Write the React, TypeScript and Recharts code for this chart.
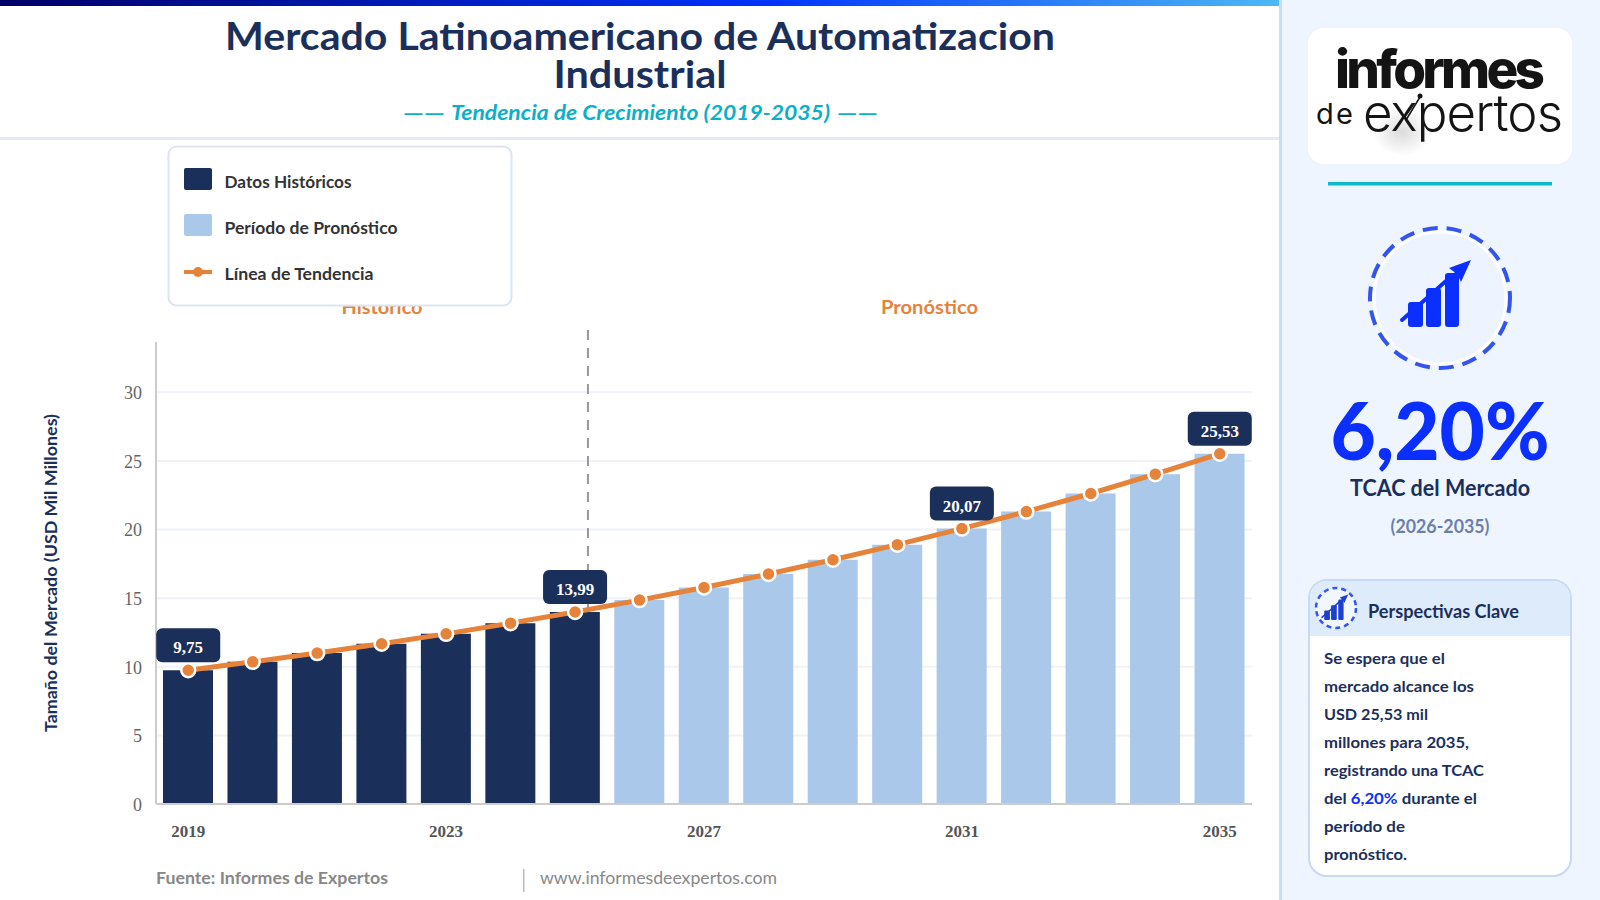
import React from 'react';
import { ComposedChart, Bar, Line, XAxis, YAxis, CartesianGrid, LabelList, ReferenceLine } from 'recharts';

const years = [2019, 2020, 2021, 2022, 2023, 2024, 2025, 2026, 2027, 2028, 2029, 2030, 2031, 2032, 2033, 2034, 2035];
const historicos = [9.75, 10.36, 11.0, 11.68, 12.4, 13.18, 13.99, null, null, null, null, null, null, null, null, null, null];
const pronostico = [null, null, null, null, null, null, null, 14.86, 15.78, 16.76, 17.8, 18.9, 20.07, 21.31, 22.63, 24.04, 25.53];
const tendencia = [9.75, 10.36, 11.0, 11.68, 12.4, 13.18, 13.99, 14.86, 15.78, 16.76, 17.8, 18.9, 20.07, 21.31, 22.63, 24.04, 25.53];
const yTicks = [0, 5, 10, 15, 20, 25, 30];
const gridValues = [5, 10, 15, 20, 25, 30];
const labelledYears = [2019, 2025, 2031, 2035];
const dividerSegment = [{ x: 2025.2, y: 13.99 }, { x: 2025.2, y: 33.67 }];
const data = years.map((year, i) => ({ year, historico: historicos[i], pronostico: pronostico[i], tendencia: tendencia[i] }));

const NAVY = '#1b2f5b';
const LIGHT = '#aac8e9';
const ORANGE = '#e6833a';
const BLUE = '#0a2fff';
const SANS = 'Lato';
const SERIF = '"Liberation Serif"';

const fmt = (v: number) => v.toFixed(2).replace('.', ',');

function T({ x, y, w, size, color, weight = 700, anchor = 'start', italic = false, family = SANS, children, rotate, adjust = 'spacingAndGlyphs' }: any) {
  return (
    <text
      x={x}
      y={y}
      fontFamily={family}
      fontSize={size}
      fill={color}
      fontWeight={weight}
      fontStyle={italic ? 'italic' : 'normal'}
      textAnchor={anchor}
      textLength={w}
      lengthAdjust={adjust}
      transform={rotate ? `rotate(${rotate} ${x} ${y})` : undefined}
    >
      {children}
    </text>
  );
}

function ValueBadge(props: any) {
  const { x, y, value, index } = props;
  if (!labelledYears.includes(years[index])) return null;
  return (
    <g>
      <rect x={x - 32} y={y - 42} width={64} height={34} rx={6} fill={NAVY} />
      <text x={x} y={y - 17} textAnchor="middle" fontFamily={SERIF} fontWeight={700} fontSize={17} fill="#fff">
        {fmt(value)}
      </text>
    </g>
  );
}

const DividerLine = (p: any) => (
  <line
    x1={p.x1}
    x2={p.x2}
    y1={Math.min(p.y1, p.y2) - 12}
    y2={Math.max(p.y1, p.y2)}
    stroke="#999999"
    strokeWidth={2}
    strokeDasharray="10 8"
  />
);

const bodyLines = ['Se espera que el', 'mercado alcance los', 'USD 25,53 mil', 'millones para 2035,', 'registrando una TCAC'];
const bodyWidths = [121, 150, 104, 145, 160];

function GrowthIcon({ s = 1, x = 0, y = 0, color = BLUE }: any) {
  return (
    <g transform={`translate(${x} ${y}) scale(${s})`} fill={color}>
      <rect x={-31} y={4} width={15} height={25} rx={3} />
      <rect x={-13} y={-10} width={15} height={39} rx={3} />
      <rect x={6} y={-25} width={14} height={54} rx={3} />
      <path d="M-37 22 L-12 0 L8 -18 L20 -26" stroke={color} strokeWidth={4} strokeLinecap="round" fill="none" />
      <path d="M10 -30 L32 -38 L22 -16 L18 -24 Z" />
    </g>
  );
}

export default function App() {
  return (
    <div style={{ position: 'absolute', left: 0, top: 0, width: 1600, height: 900, overflow: 'hidden', background: '#fff' }}>
      <div style={{ position: 'absolute', left: 0, top: 0 }}>
        <ComposedChart width={1279} height={900} data={data} margin={{ top: 342, right: 27, bottom: 56, left: 106 }}>
          <CartesianGrid vertical={false} stroke="#f0f2f9" strokeWidth={2} xAxisId="cat" horizontalValues={gridValues} />
          <XAxis
            xAxisId="cat"
            dataKey="year"
            type="category"
            interval={3}
            height={40}
            tickLine={false}
            axisLine={{ stroke: '#cccccc', strokeWidth: 2 }}
            tick={{ fontFamily: SERIF, fontWeight: 700, fontSize: 17, fill: '#555' }}
            tickMargin={15}
          />
          <XAxis xAxisId="num" dataKey="year" type="number" hide allowDataOverflow domain={[2018.5, 2035.5]} />
          <YAxis
            width={50}
            domain={[0, 33.67]}
            ticks={yTicks}
            allowDataOverflow
            tickLine={false}
            axisLine={{ stroke: '#cccccc', strokeWidth: 2 }}
            tick={{ fontFamily: SERIF, fontSize: 18, fill: '#666', dy: 0.5 }}
            tickMargin={8}
          />
          <ReferenceLine xAxisId="num" segment={dividerSegment} ifOverflow="visible" shape={DividerLine} />
          <Bar xAxisId="cat" dataKey="historico" stackId="a" fill={NAVY} barSize={50} isAnimationActive={false} />
          <Bar xAxisId="cat" dataKey="pronostico" stackId="a" fill={LIGHT} barSize={50} isAnimationActive={false} />
          <Line
            xAxisId="cat"
            dataKey="tendencia"
            type="monotone"
            stroke={ORANGE}
            strokeWidth={5}
            dot={{ r: 7, fill: ORANGE, stroke: '#fff', strokeWidth: 2.5 }}
            activeDot={false}
            isAnimationActive={false}
          >
            <LabelList dataKey="tendencia" content={ValueBadge} />
          </Line>
        </ComposedChart>
      </div>

      <svg width={1600} height={900} style={{ position: 'absolute', left: 0, top: 0, pointerEvents: 'none' }}>
        <defs>
          <linearGradient id="topbar" x1="0" x2="1" y1="0" y2="0">
            <stop offset="0" stopColor="#000066" />
            <stop offset="0.6" stopColor="#0033ff" />
            <stop offset="1" stopColor="#4db8f5" />
          </linearGradient>
          <radialGradient id="logoShade">
            <stop offset="0" stopColor="#000" stopOpacity="0.14" />
            <stop offset="1" stopColor="#000" stopOpacity="0" />
          </radialGradient>
        </defs>

        {/* header */}
        <rect x={0} y={0} width={1279} height={6} fill="url(#topbar)" />
        <T x={640} y={49.5} w={830} size={38.5} color={NAVY} anchor="middle">Mercado Latinoamericano de Automatizacion</T>
        <T x={640} y={87.5} w={173} size={38.5} color={NAVY} anchor="middle">Industrial</T>
        <T x={403} y={120} w={42} size={21} color="#0cb0c6" italic>——</T>
        <T x={451} y={120} w={379} size={21} color="#0cb0c6" italic>Tendencia de Crecimiento (2019-2035)</T>
        <T x={837} y={120} w={41} size={21} color="#0cb0c6" italic>——</T>
        <rect x={0} y={137} width={1279} height={3} fill="#e3eaf5" />

        {/* region headings */}
        <T x={382} y={314} w={81} size={19} color={ORANGE} anchor="middle">Histórico</T>
        <T x={929.5} y={314} w={97} size={19} color={ORANGE} anchor="middle">Pronóstico</T>

        {/* legend */}
        <rect x={168.5} y={146.5} width={343} height={159} rx={8} fill="#fff" stroke="#dde5f3" strokeWidth={2} />
        <rect x={184} y={168} width={28} height={22} rx={2} fill={NAVY} />
        <T x={224.5} y={188} w={127} size={17} color="#333">Datos Históricos</T>
        <rect x={184} y={214} width={28} height={22} rx={2} fill={LIGHT} />
        <T x={224.5} y={234} w={173} size={17} color="#333">Período de Pronóstico</T>
        <rect x={184} y={270} width={28} height={4} fill={ORANGE} />
        <circle cx={198} cy={272} r={5} fill={ORANGE} />
        <T x={224.5} y={280} w={149} size={17} color="#333">Línea de Tendencia</T>

        {/* axis title */}
        <T x={57} y={573} w={318} size={17} color={NAVY} anchor="middle" rotate={-90}>Tamaño del Mercado (USD Mil Millones)</T>

        {/* footer */}
        <T x={156} y={884} w={232} size={17} color="#888">Fuente: Informes de Expertos</T>
        <rect x={523} y={869} width={1.5} height={23} fill="#bbb" />
        <T x={540} y={884} w={237} size={17} color="#888" weight={400}>www.informesdeexpertos.com</T>

        {/* side panel */}
        <rect x={1279} y={0} width={321} height={900} fill="#eff5ff" />
        <rect x={1279} y={0} width={3} height={900} fill="#c9dcf5" />

        <rect x={1308} y={28} width={264} height={136} rx={16} fill="#fff" />
        <ellipse cx={1402} cy={132} rx={30} ry={24} fill="url(#logoShade)" />
        <T x={1335} y={88} w={210} size={53} color="#141414" weight={800} family="Inter" adjust="spacing">informes</T>
        <T x={1316} y={124} w={37} size={29} color="#141414" weight={400} family="Inter" adjust="spacing">de</T>
        <T x={1363} y={131} w={200} size={51} color="#141414" weight={300} family="Inter" adjust="spacing">expertos</T>
        <line x1={1420} y1={97} x2={1406} y2={120} stroke="#141414" strokeWidth={1.5} />
        <circle cx={1420} cy={96} r={2.5} fill="#141414" />

        <rect x={1328} y={182} width={224} height={3.5} fill="#10b8cc" />

        <circle cx={1440} cy={298} r={66} fill="#eef4ff" stroke="#fff" strokeWidth={3} />
        <circle cx={1440} cy={298} r={70} fill="none" stroke="#3355ee" strokeWidth={4} strokeDasharray="15 9" />
        <GrowthIcon x={1439} y={298} />

        <T x={1440} y={460} w={219} size={80} color={BLUE} anchor="middle" weight={900}>6,20%</T>
        <T x={1440} y={496} w={180} size={22} color={NAVY} anchor="middle">TCAC del Mercado</T>
        <T x={1440} y={533} w={99} size={19.5} color="#6b7fa8" anchor="middle">(2026-2035)</T>

        {/* key insights card */}
        <rect x={1309} y={580} width={262} height={296} rx={18} fill="#fff" stroke="#c8daf3" strokeWidth={2} />
        <path d="M1310 636 V598 a17 17 0 0 1 17 -17 H1553 a17 17 0 0 1 17 17 V636 Z" fill="#deebfb" />
        <circle cx={1336} cy={608} r={20} fill="#f1f6ff" stroke="#3355ee" strokeWidth={2.5} strokeDasharray="5 4" />
        <GrowthIcon x={1336} y={609} s={0.38} color="#1d3fd0" />
        <T x={1368} y={618} w={151} size={18.5} color={NAVY}>Perspectivas Clave</T>
        {bodyLines.map((line, i) => (
          <T key={line} x={1324} y={664 + i * 28} w={bodyWidths[i]} size={15} color={NAVY}>{line}</T>
        ))}
        <T x={1324} y={804} w={153} size={15} color={NAVY}>
          del <tspan fill={BLUE}>6,20%</tspan> durante el
        </T>
        <T x={1324} y={832} w={81} size={15} color={NAVY}>período de</T>
        <T x={1324} y={860} w={83} size={15} color={NAVY}>pronóstico.</T>
      </svg>
    </div>
  );
}
